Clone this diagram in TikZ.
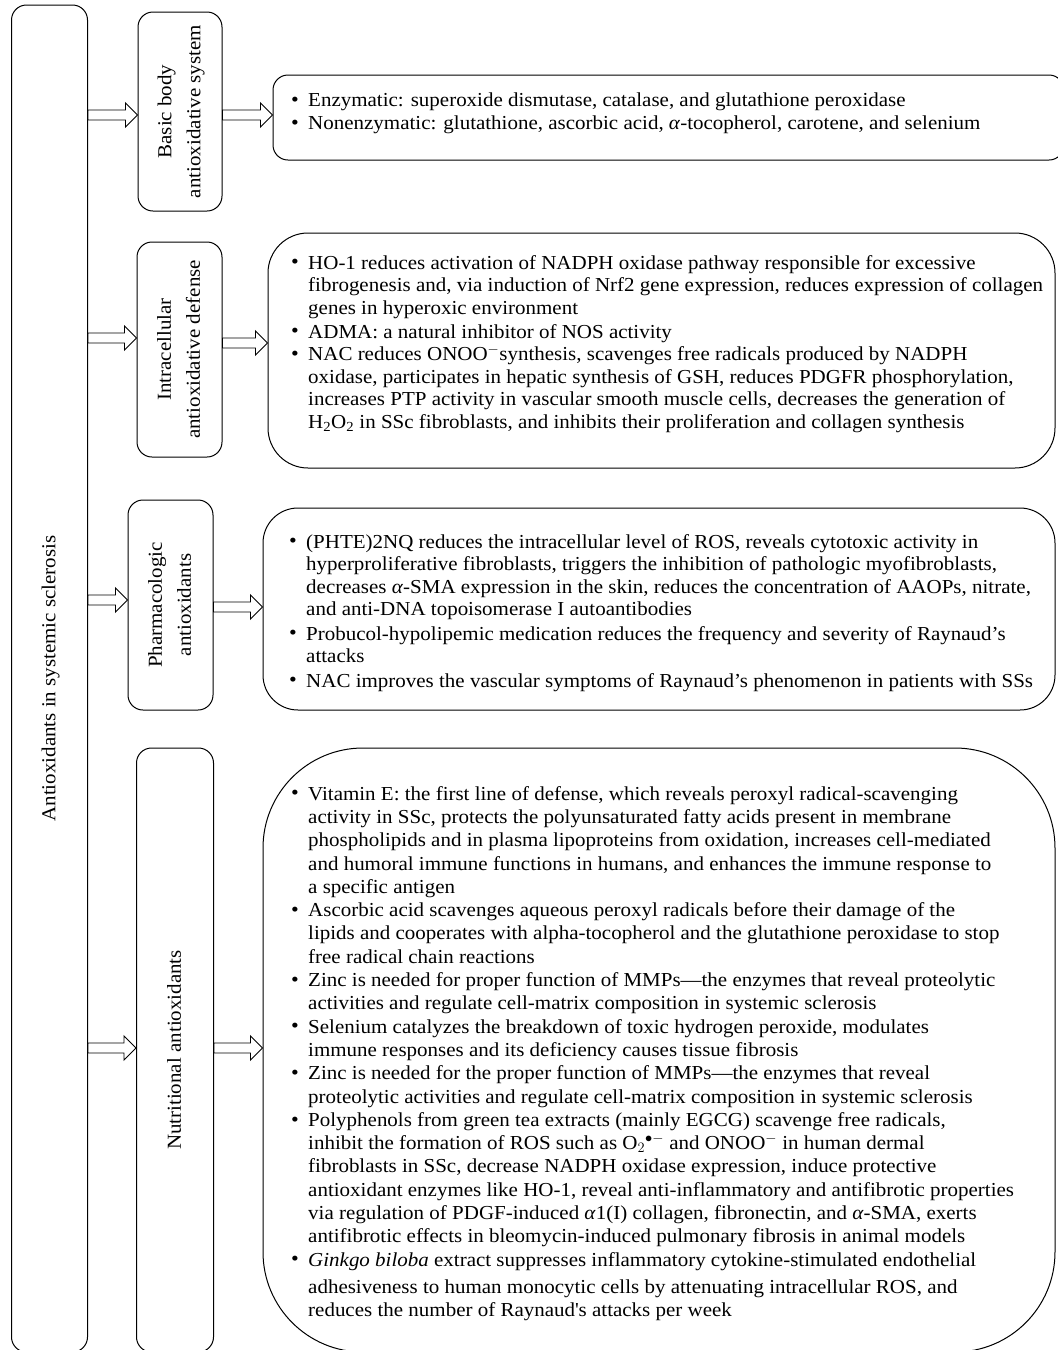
\documentclass[tikz,border=0pt]{standalone}
\usepackage{fontspec}
\setmainfont{Liberation Serif}[FakeStretch=1.06]
\usetikzlibrary{calc}

\newcommand{\bul}{\makebox[17pt][l]{\raisebox{0.3pt}{\scalebox{1.05}{\textbullet}}}}
\newcommand{\ind}{\hspace*{17pt}}
\newcommand{\vtext}[1]{\rotatebox{90}{\begin{tabular}{@{}c@{}}#1\end{tabular}}}

\begin{document}
\begin{tikzpicture}[x=1pt,y=-1pt]
    \tikzstyle{every node}+=[inner sep=0pt]
    \tikzstyle{box}=[draw, line width=1pt, rounded corners=15pt]
    \tikzstyle{body}=[anchor=north west, align=left, font=\fontsize{19.8}{22.5}\selectfont]
    \tikzstyle{lbl}=[box, font=\fontsize{19.8}{29}\selectfont]
    \tikzstyle{hollow}=[draw, fill=white, line width=0.9pt, to path={let \p1=(\tikztostart), \p2=(\tikztotarget) in
        (\x1,\y1+5pt) -- (\x2-12pt,\y1+5pt) -- (\x2-12pt,\y1+12pt) -- (\x2,\y1) -- (\x2-12pt,\y1-12pt) -- (\x2-12pt,\y1-5pt) -- (\x1,\y1-5pt) -- cycle}]
    \useasboundingbox (0,0) rectangle (1058,1350);
    % main column
    \node [lbl, minimum width=76pt, minimum height=1347pt] (root) at (49.5,678.5) {\vtext{Antioxidants in systemic sclerosis}};
    % groups
    \node [lbl, minimum width=84pt, minimum height=199pt] (basic) at (180,111.5) {\vtext{Basic body\\antioxidative system}};
    \node [lbl, minimum width=85pt, minimum height=215pt] (intra) at (179.5,349.5) {\vtext{Intracellular\\antioxidative defense}};
    \node [lbl, minimum width=85pt, minimum height=210pt] (pharm) at (170.5,605) {\vtext{Pharmacologic\\antioxidants}};
    \node [lbl, minimum width=77pt, minimum height=604pt] (nutr) at (175,1050) {\vtext{Nutritional antioxidants}};
    % text boxes
    \node [box, minimum width=791pt, minimum height=85pt] (basicbox) at (668.5,117.5) {};
    \node [box, rounded corners=40pt, minimum width=787pt, minimum height=235pt] (intrabox) at (661.5,350.5) {};
    \node [box, rounded corners=35pt, minimum width=792pt, minimum height=202pt] (pharmbox) at (659,609) {};
    \node [box, rounded corners=100pt, minimum width=792pt, minimum height=604pt] (nutrbox) at (659,1050) {};
    % arrows
    \draw [hollow] (root.east |- 0,115) to (basic.west |- 0,115);
    \draw [hollow] (basic.east |- 0,115) to (basicbox.west |- 0,115);
    \draw [hollow] (root.east |- 0,338) to (intra.west |- 0,338);
    \draw [hollow] (intra.east |- 0,343) to (intrabox.west |- 0,343);
    \draw [hollow] (root.east |- 0,600) to (pharm.west |- 0,600);
    \draw [hollow] (pharm.east |- 0,607) to (pharmbox.west |- 0,607);
    \draw [hollow] (root.east |- 0,1048) to (nutr.west |- 0,1048);
    \draw [hollow] (nutr.east |- 0,1048) to (nutrbox.west |- 0,1048);
    % texts
    \node [body] (basictext) at (291,93) {\bul Enzymatic: superoxide dismutase, catalase, and glutathione peroxidase\\
        \bul Nonenzymatic: glutathione, ascorbic acid, \textit{α}-tocopherol, carotene, and selenium};
    \node [body] (intratext) at (291,255) {\bul HO-1 reduces activation of NADPH oxidase pathway responsible for excessive\\
        \ind fibrogenesis and, via induction of Nrf2 gene expression, reduces expression of collagen\\
        \ind genes in hyperoxic environment\\[1.5pt]
        \bul ADMA: a natural inhibitor of NOS activity\\
        \bul NAC reduces ONOO\textsuperscript{$-$}synthesis, scavenges free radicals produced by NADPH\\
        \ind oxidase, participates in hepatic synthesis of GSH, reduces PDGFR phosphorylation,\\
        \ind increases PTP activity in vascular smooth muscle cells, decreases the generation of\\
        \ind H\textsubscript{2}O\textsubscript{2} in SSc fibroblasts, and inhibits their proliferation and collagen synthesis};
    \node [body] (pharmtext) at (289,534) {\bul (PHTE)2NQ reduces the intracellular level of ROS, reveals cytotoxic activity in\\
        \ind hyperproliferative fibroblasts, triggers the inhibition of pathologic myofibroblasts,\\
        \ind decreases \textit{α}-SMA expression in the skin, reduces the concentration of AAOPs, nitrate,\\
        \ind and anti-DNA topoisomerase I autoantibodies\\[2pt]
        \bul Probucol-hypolipemic medication reduces the frequency and severity of Raynaud's\\
        \ind attacks\\[2pt]
        \bul NAC improves the vascular symptoms of Raynaud's phenomenon in patients with SSs};
    \node [body, font=\fontsize{19.8}{23.3}\selectfont] (nutrtext) at (291,786) {\bul Vitamin E: the first line of defense, which reveals peroxyl radical-scavenging\\
        \ind activity in SSc, protects the polyunsaturated fatty acids present in membrane\\
        \ind phospholipids and in plasma lipoproteins from oxidation, increases cell-mediated\\
        \ind and humoral immune functions in humans, and enhances the immune response to\\
        \ind a specific antigen\\
        \bul Ascorbic acid scavenges aqueous peroxyl radicals before their damage of the\\
        \ind lipids and cooperates with alpha-tocopherol and the glutathione peroxidase to stop\\
        \ind free radical chain reactions\\
        \bul Zinc is needed for proper function of MMPs---the enzymes that reveal proteolytic\\
        \ind activities and regulate cell-matrix composition in systemic sclerosis\\
        \bul Selenium catalyzes the breakdown of toxic hydrogen peroxide, modulates\\
        \ind immune responses and its deficiency causes tissue fibrosis\\
        \bul Zinc is needed for the proper function of MMPs---the enzymes that reveal\\
        \ind proteolytic activities and regulate cell-matrix composition in systemic sclerosis\\
        \bul Polyphenols from green tea extracts (mainly EGCG) scavenge free radicals,\\
        \ind inhibit the formation of ROS such as O$_2{}^{\bullet-}$ and ONOO\textsuperscript{$-$} in human dermal\\
        \ind fibroblasts in SSc, decrease NADPH oxidase expression, induce protective\\
        \ind antioxidant enzymes like HO-1, reveal anti-inflammatory and antifibrotic properties\\
        \ind via regulation of PDGF-induced \textit{α}1(I) collagen, fibronectin, and \textit{α}-SMA, exerts\\
        \ind antifibrotic effects in bleomycin-induced pulmonary fibrosis in animal models\\
        \bul \textit{Ginkgo biloba} extract suppresses inflammatory cytokine-stimulated endothelial\\[4pt]
        \ind adhesiveness to human monocytic cells by attenuating intracellular ROS, and\\
        \ind reduces the number of Raynaud\textquotesingle s attacks per week};
\end{tikzpicture}
\end{document}
